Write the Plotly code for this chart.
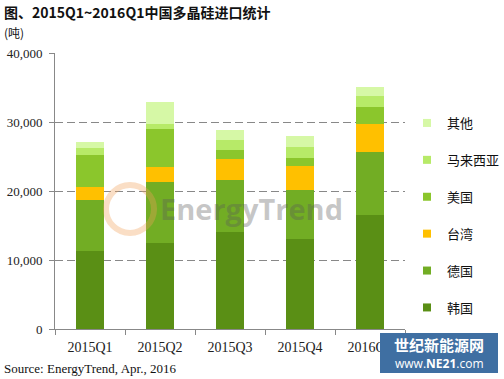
import plotly.graph_objects as go

quarters = ["2015Q1", "2015Q2", "2015Q3", "2015Q4", "2016Q1"]
series_names = ["韩国", "德国", "台湾", "美国", "马来西亚", "其他"]
korea = [11300, 12500, 14050, 13050, 16500]
germany = [7400, 8800, 7550, 7100, 9150]
taiwan = [1900, 2200, 3050, 3480, 4050]
usa = [4640, 5500, 1300, 1160, 2450]
malaysia = [1000, 700, 1450, 1590, 1600]
others = [870, 3200, 1450, 1600, 1300]
colors = ["#5A8F15", "#72AD24", "#FFC000", "#8BC62C", "#B7EA68", "#D6F8A6"]
y_ticks = [0, 10000, 20000, 30000, 40000]

values = [korea, germany, taiwan, usa, malaysia, others]

fig = go.Figure()
for name, vals, col in zip(series_names, values, colors):
    fig.add_trace(go.Bar(x=quarters, y=vals, name=name, marker=dict(color=col, line=dict(width=0)),
                         showlegend=False))
for name, col in reversed(list(zip(series_names, colors))):
    fig.add_trace(go.Scatter(x=[None], y=[None], mode="markers", name=name, legendgroup=name,
                             marker=dict(symbol="square", size=8, color=col)))

serif = "Liberation Serif"
fig.update_layout(
    width=504, height=379,
    margin=dict(l=55, r=99, t=53, b=50, autoexpand=False),
    paper_bgcolor="white", plot_bgcolor="white",
    barmode="stack", bargap=0.6,
    legend=dict(x=(407-55)/350, xanchor="left", y=(329-108)/276, yanchor="top", traceorder="grouped",
                tracegroupgap=17, font=dict(family="Noto Sans CJK SC", size=13, color="#111"),
                itemwidth=30, bgcolor="rgba(0,0,0,0)"),
    xaxis=dict(showline=True, linecolor="#888", linewidth=1, ticks="outside", tickson="boundaries",
               ticklen=5, tickcolor="#888", showgrid=False, automargin=False, ticklabelstandoff=5,
               tickfont=dict(family=serif, size=14, color="#222")),
    yaxis=dict(range=[0, 40000], tickvals=y_ticks, tickformat=",", showline=True, linecolor="#888",
               linewidth=1, ticks="outside", ticklen=5, tickcolor="#888", automargin=False,
               ticklabelstandoff=4,
               showgrid=True, gridcolor="#888", griddash="8px,4px", gridwidth=1, zeroline=False,
               tickfont=dict(family=serif, size=13, color="#222")),
    font=dict(family="Noto Sans CJK SC"),
)

fig.add_annotation(text="<b>图、2015Q1~2016Q1中国多晶硅进口统计</b>", xref="paper", yref="paper",
                   x=-53/350, y=(329-12)/276, xanchor="left", yanchor="middle", showarrow=False,
                   font=dict(family="Noto Sans CJK SC", size=14, color="#111"))
fig.add_annotation(text="(吨)", xref="paper", yref="paper", x=-53/350, y=(329-33)/276,
                   xanchor="left", yanchor="middle", showarrow=False,
                   font=dict(family="Noto Sans CJK SC", size=12, color="#111"))
fig.add_annotation(text="Source: EnergyTrend, Apr., 2016", xref="paper", yref="paper",
                   x=-53/350, y=(329-368)/276, xanchor="left", yanchor="middle", showarrow=False,
                   font=dict(family=serif, size=13, color="#111"))

# watermark
fig.add_shape(type="circle", xref="paper", yref="paper",
              x0=(106-55)/350, x1=(154-55)/350, y0=(329-233)/276, y1=(329-185)/276,
              line=dict(color="rgba(240,160,90,0.35)", width=6), layer="above")
fig.add_annotation(text="<b>EnergyTrend</b>", xref="paper", yref="paper",
                   x=(251-55)/350, y=(329-208)/276, xanchor="center", yanchor="middle",
                   showarrow=False, font=dict(family="Open Sans", size=29, color="rgba(90,90,90,0.35)"))

# NE21 badge
fig.add_shape(type="rect", xref="paper", yref="paper",
              x0=(380-55)/350, x1=(498-55)/350, y0=(329-373)/276, y1=(329-333)/276,
              fillcolor="#3F6FA2", line=dict(width=0), layer="above")
fig.add_annotation(text="<b>世纪新能源网</b>", xref="paper", yref="paper",
                   x=(439-55)/350, y=(329-344)/276, xanchor="center", yanchor="middle",
                   showarrow=False, font=dict(family="Noto Sans CJK SC", size=15, color="white"))
fig.add_annotation(text="www.<b>NE21</b>.com", xref="paper", yref="paper",
                   x=(439-55)/350, y=(329-363)/276, xanchor="center", yanchor="middle",
                   showarrow=False, font=dict(family="Open Sans", size=12, color="white"))

fig.write_html("out.html", config={"displayModeBar": False},
               post_script="document.body.style.margin='0';")
